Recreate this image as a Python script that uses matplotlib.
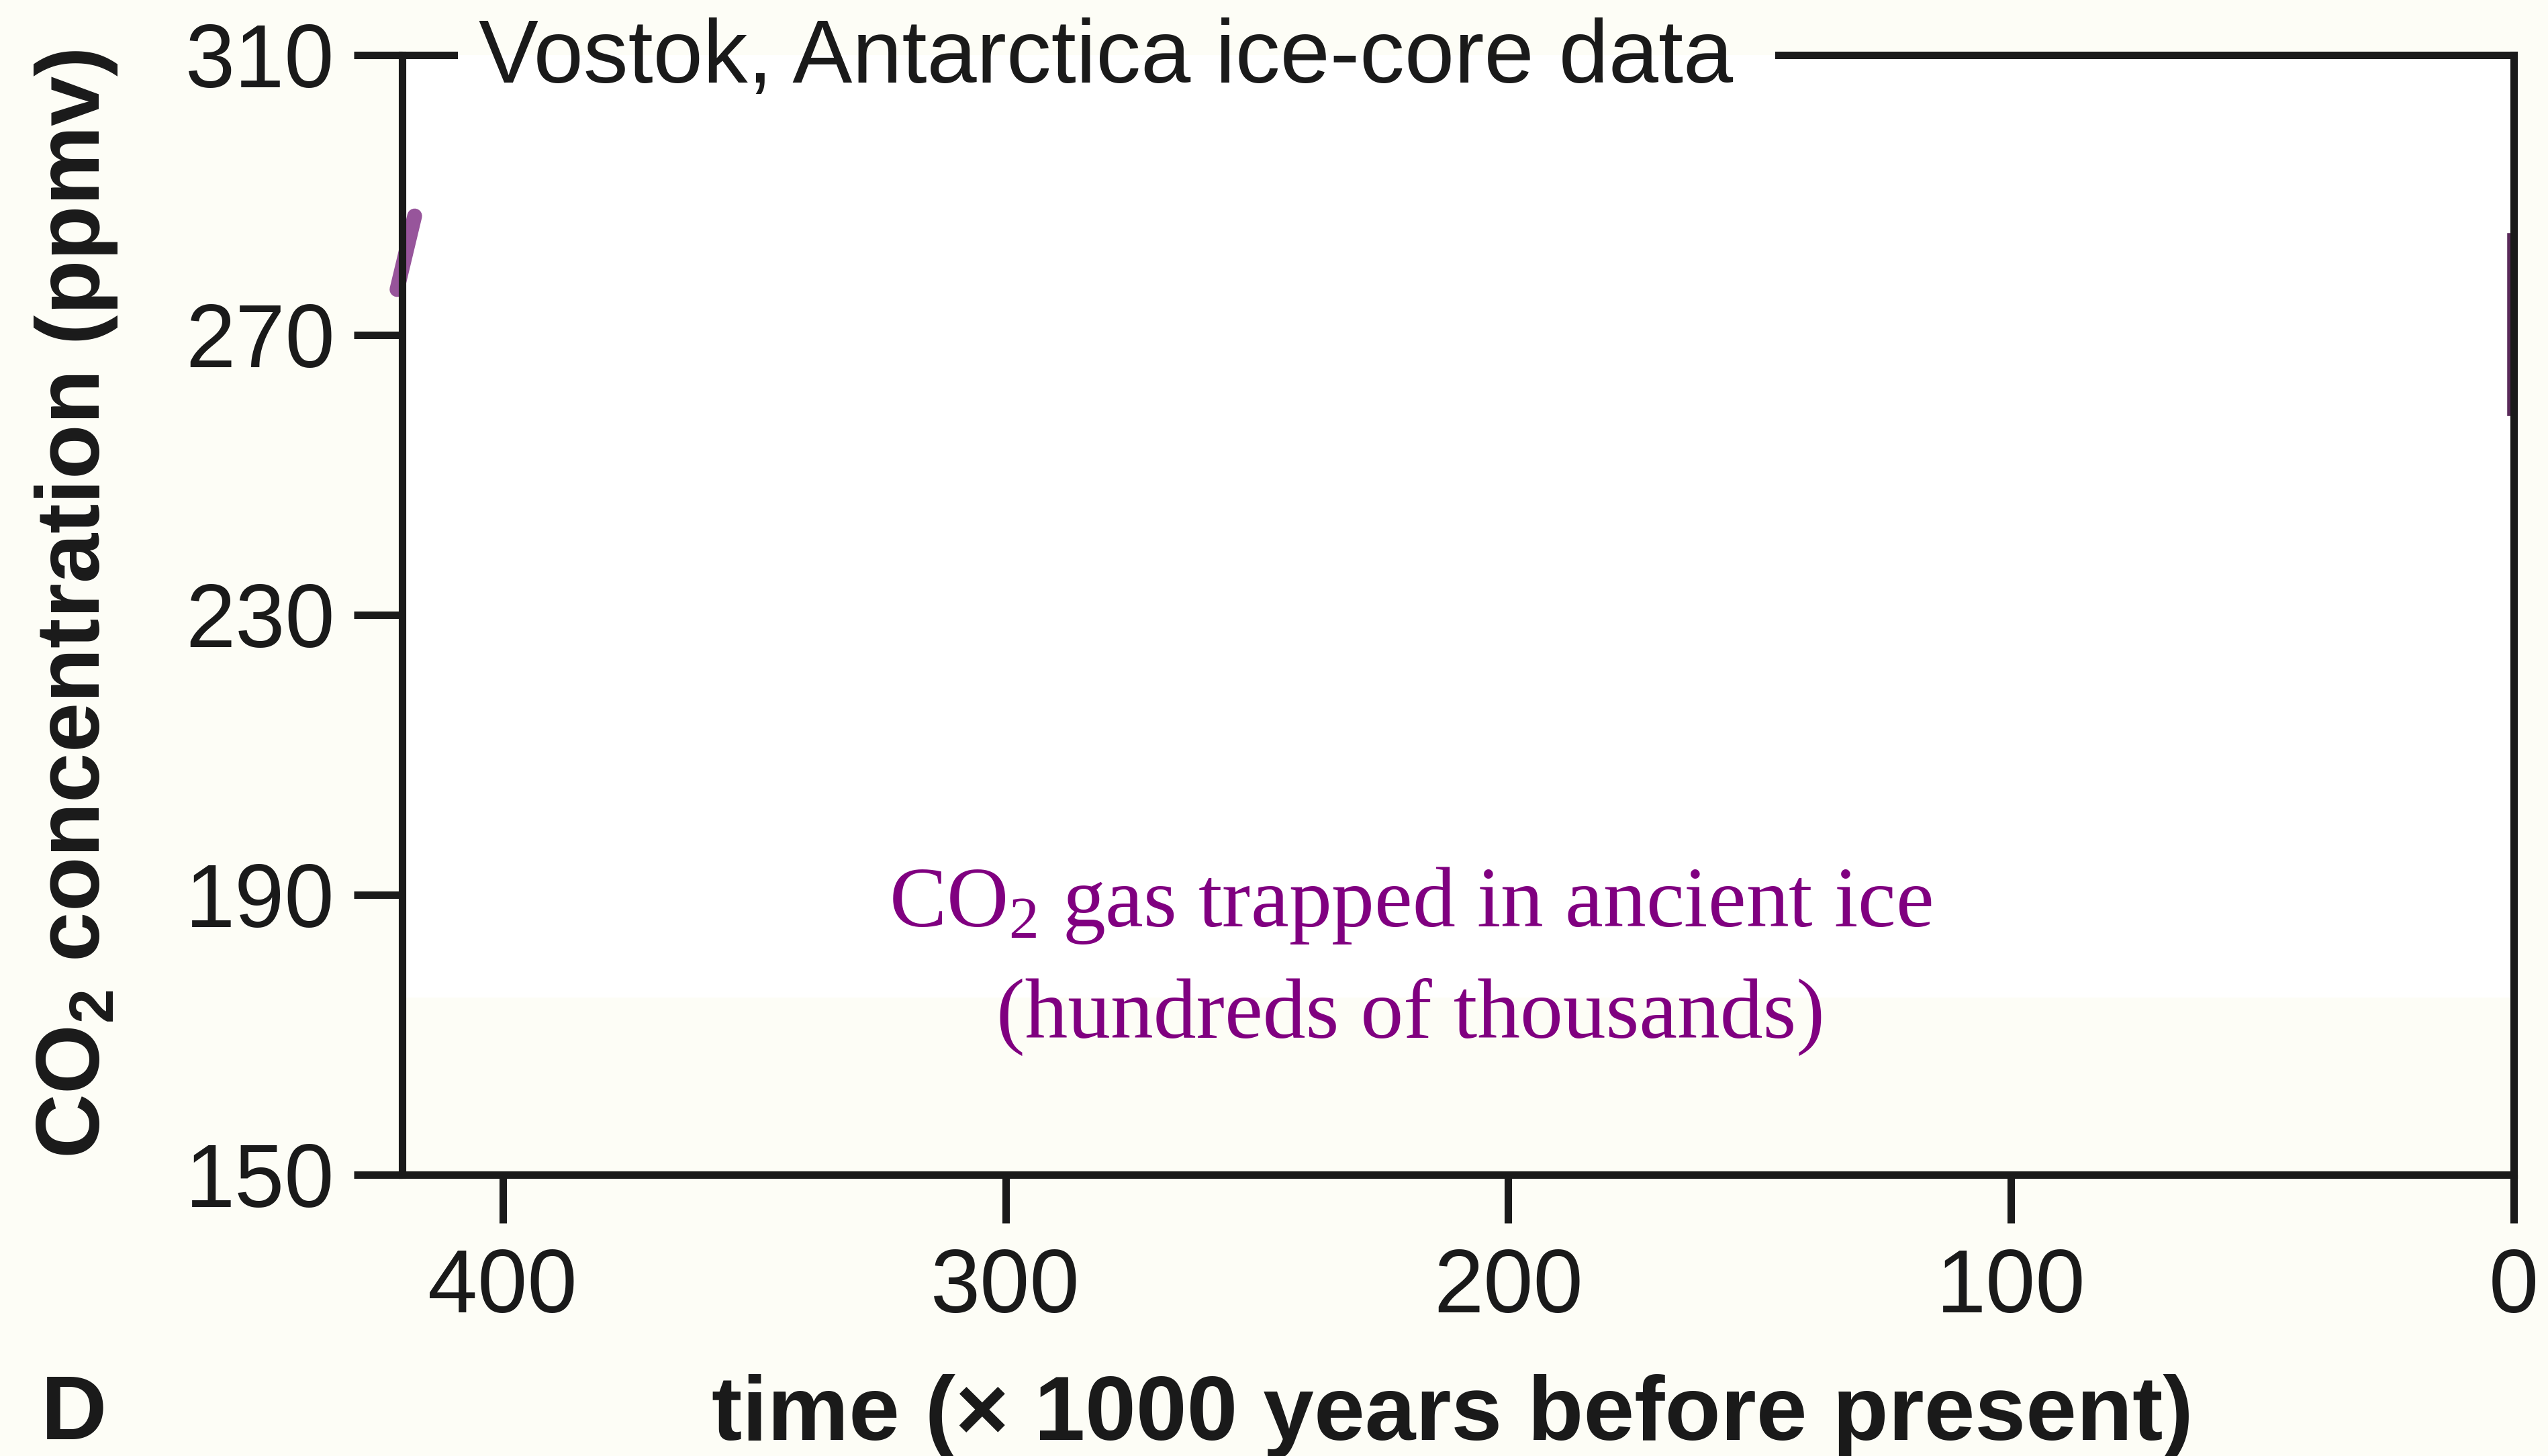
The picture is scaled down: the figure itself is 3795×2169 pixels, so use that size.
import matplotlib
matplotlib.use("Agg")
import matplotlib.pyplot as plt

# -----------------------------------------------------------
# data (what is left of the Vostok curve at the two edges)
# -----------------------------------------------------------

kyr_start = [421.0, 417.5]      # time (x 1000 years before present)
co2_start = [276.5, 287.0]      # ppmv
kyr_end = [0.9, 0.9]
co2_end = [258.7, 284.3]

xticks = [400, 300, 200, 100, 0]
yticks = [150, 190, 230, 270, 310]

# -----------------------------------------------------------
# style
# -----------------------------------------------------------

bg = "#fdfdf6"
ink = "#1a1a1a"
purple = "#800080"
sans = ["Liberation Sans", "DejaVu Sans"]
serif = ["Liberation Serif", "DejaVu Serif"]

plt.rcParams["font.family"] = sans
plt.rcParams["mathtext.default"] = "regular"

fig = plt.figure(figsize=(18.975, 10.845), dpi=200, facecolor=bg)
ax = fig.add_axes([0.1578, 0.1932, 0.9866 - 0.1578, 0.9622 - 0.1932])
ax.set_facecolor("white")

# faint cream band at the bottom of the plot area
ax.axhspan(150, 175.3, color=bg, lw=0, zorder=0)

# -----------------------------------------------------------
# marks
# -----------------------------------------------------------

ax.plot(kyr_start, co2_start, color="#8c4290", lw=8, alpha=0.9,
        solid_capstyle="round", clip_on=False, zorder=1)
ax.plot(kyr_end, co2_end, color="#5a2a5a", lw=2, clip_on=False, zorder=1)

# -----------------------------------------------------------
# axes
# -----------------------------------------------------------

ax.set_xlim(420, 0)
ax.set_ylim(150, 310)
ax.set_xticks(xticks)
ax.set_yticks(yticks)
ax.set_xticklabels([str(v) for v in xticks])
ax.set_yticklabels([str(v) for v in yticks])

for s in ax.spines.values():
    s.set_linewidth(4)
    s.set_color(ink)
    s.set_zorder(3)

# top border is broken where the title sits
ax.spines["top"].set_visible(False)
gap_l = (676 - 599) / (3744 - 599)
gap_r = (2649 - 599) / (3744 - 599)
for x0, x1 in [(0, gap_l), (gap_r, 1)]:
    ax.plot([x0, x1], [1, 1], transform=ax.transAxes, color=ink, lw=4,
            solid_capstyle="projecting", clip_on=False, zorder=3)

ax.tick_params(axis="both", direction="out", length=26, width=4,
               color=ink, labelcolor=ink, labelsize=48)
ax.tick_params(axis="y", pad=10)
ax.tick_params(axis="x", pad=13)

# title sitting on the top border
fig.text(713 / 3795, 1 - 123 / 2169, "Vostok, Antarctica ice-core data",
         ha="left", va="baseline", fontsize=48, color=ink)

# purple annotation
fig.text(2101 / 3795, 1 - 1380 / 2169,
         r"CO$_\mathregular{2}$ gas trapped in ancient ice",
         ha="center", va="baseline", fontsize=46, color=purple, family=serif)
fig.text(2101 / 3795, 1 - 1546 / 2169, "(hundreds of thousands)",
         ha="center", va="baseline", fontsize=46, color=purple, family=serif)

# axis labels
fig.text(114 / 3795, 0.585, r"CO$_\mathregular{2}$ concentration (ppmv)",
         rotation=90, ha="center", va="center", fontsize=48,
         fontweight="bold", color=ink)
fig.text(2163 / 3795, 1 - 2145 / 2169, "time (\u00d7 1000 years before present)",
         ha="center", va="baseline", fontsize=49, fontweight="bold", color=ink)
fig.text(61 / 3795, 1 - 2144 / 2169, "D", ha="left", va="baseline",
         fontsize=49, fontweight="bold", color=ink)

fig.savefig("out.png", dpi=200, facecolor=bg)
